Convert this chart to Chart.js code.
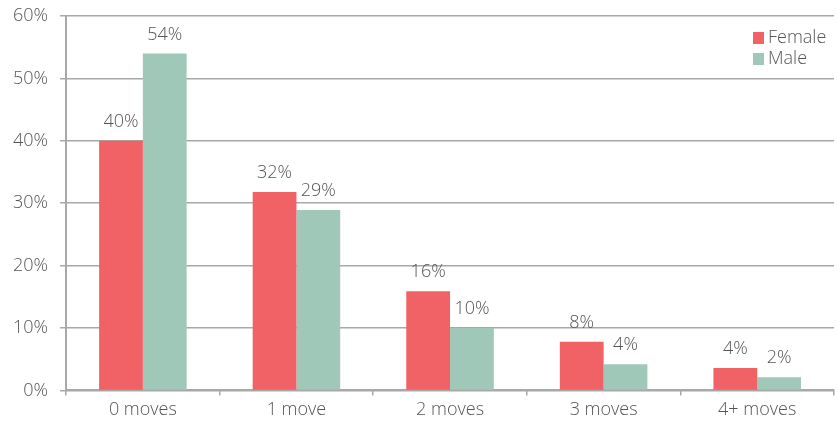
<!DOCTYPE html>
<html>
<head>
<meta charset="utf-8">
<script src="https://cdn.jsdelivr.net/npm/chart.js@4.4.1/dist/chart.umd.min.js"></script>
<style>
  html, body { margin: 0; padding: 0; background: #fff; }
  #wrap { width: 838px; height: 425px; position: relative; }
</style>
</head>
<body>
<div id="wrap"><canvas id="movesChart"></canvas></div>
<script>
// categories and series
const categories = ["0 moves", "1 move", "2 moves", "3 moves", "4+ moves"];
const femaleValues = [40, 31.8, 15.9, 7.8, 3.6];
const maleValues = [54, 28.9, 10, 4.2, 2.1];
const femaleLabels = ["40%", "32%", "16%", "8%", "4%"];
const maleLabels = ["54%", "29%", "10%", "4%", "2%"];
const yTicks = [0, 10, 20, 30, 40, 50, 60];

const femaleColor = "#F06266";
const maleColor = "#9FC8B9";
const textColor = "#555555";
const gridColor = "#a8a8a8";
const fontFamily = "'Open Sans', Lato, sans-serif";
const fontSize = 18;

// draw the value text above each bar
const barLabels = {
    id: "barLabels",
    afterDatasetsDraw(chart) {
        const ctx = chart.ctx;
        const texts = [femaleLabels, maleLabels];
        ctx.save();
        ctx.font = "300 " + fontSize + "px " + fontFamily;
        ctx.fillStyle = textColor;
        ctx.textAlign = "center";
        ctx.textBaseline = "middle";
        chart.data.datasets.forEach((ds, i) => {
            const meta = chart.getDatasetMeta(i);
            meta.data.forEach((bar, j) => {
                ctx.fillText(texts[i][j], bar.x, bar.y - 19);
            });
        });
        ctx.restore();
    }
};

// legend stacked in the top right corner of the plot
const cornerLegend = {
    id: "cornerLegend",
    afterDraw(chart) {
        const ctx = chart.ctx;
        const area = chart.chartArea;
        ctx.save();
        ctx.font = "300 " + fontSize + "px " + fontFamily;
        ctx.textBaseline = "middle";
        chart.data.datasets.forEach((ds, i) => {
            const y = area.top + 22 + i * 21;
            const x = area.right - 81;
            ctx.fillStyle = ds.backgroundColor;
            ctx.fillRect(x, y - 6, 11, 12);
            ctx.fillStyle = textColor;
            ctx.fillText(ds.label, x + 15, y);
        });
        ctx.restore();
    }
};

const ctx = document.getElementById("movesChart");

new Chart(ctx, {
    type: "bar",
    data: {
        labels: categories,
        datasets: [
            {
                label: "Female",
                data: femaleValues,
                backgroundColor: femaleColor,
                categoryPercentage: 0.57,
                barPercentage: 1.0
            },
            {
                label: "Male",
                data: maleValues,
                backgroundColor: maleColor,
                categoryPercentage: 0.57,
                barPercentage: 1.0
            }
        ]
    },
    options: {
        responsive: true,
        maintainAspectRatio: false,
        animation: false,
        layout: { padding: { top: 16, right: 4, bottom: 0, left: 1 } },
        plugins: {
            legend: { display: false },
            tooltip: { enabled: false }
        },
        scales: {
            x: {
                grid: {
                    display: true,
                    drawOnChartArea: false,
                    color: gridColor,
                    lineWidth: 1.5,
                    tickLength: 5
                },
                border: { color: gridColor, width: 2 },
                ticks: {
                    color: textColor,
                    font: { family: fontFamily, size: fontSize, weight: 300 },
                    padding: 4
                }
            },
            y: {
                min: 0,
                max: 60,
                afterBuildTicks(axis) {
                    axis.ticks = yTicks.map(v => ({ value: v }));
                },
                afterFit(axis) {
                    // let the top label hang over the edge like the original
                    axis.paddingTop = 0;
                },
                grid: {
                    color: gridColor,
                    lineWidth: 1.5,
                    tickLength: 6
                },
                border: { color: gridColor, width: 2 },
                ticks: {
                    color: textColor,
                    font: { family: fontFamily, size: fontSize, weight: 300 },
                    padding: 12,
                    callback: v => v + "%"
                }
            }
        }
    },
    plugins: [barLabels, cornerLegend]
});
</script>
</body>
</html>
